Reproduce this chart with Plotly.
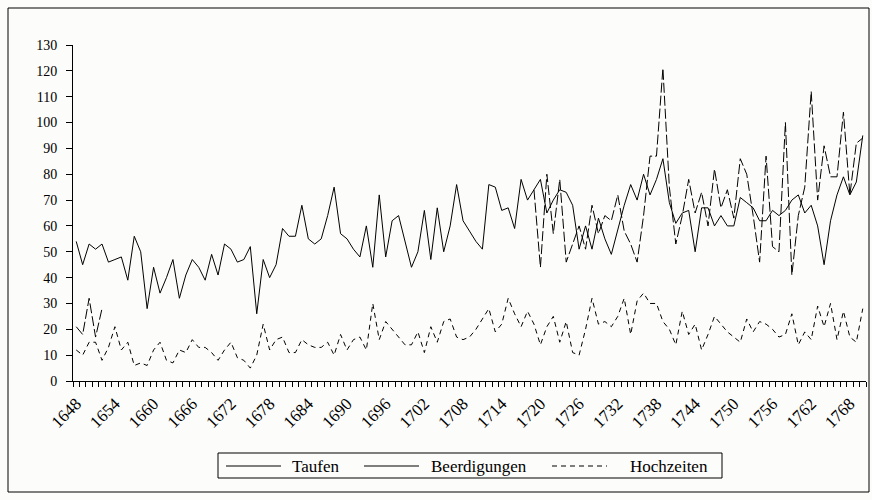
import plotly.graph_objects as go

years = list(range(1648, 1771))

taufen = [54, 45, 53, 51, 53, 46, 47, 48, 39, 56,
          50, 28, 44, 34, 40, 47, 32, 41, 47, 44,
          39, 49, 41, 53, 51, 46, 47, 52, 26, 47,
          40, 45, 59, 56, 56, 68, 55, 53, 55, 64,
          75, 57, 55, 51, 48, 60, 44, 72, 48, 62,
          64, 54, 44, 50, 66, 47, 67, 50, 60, 76,
          62, 58, 54, 51, 76, 75, 66, 67, 59, 78,
          70, 74, 78, 65, 70, 74, 73, 68, 51, 60,
          51, 63, 55, 49, 59, 68, 76, 70, 80, 72,
          78, 86, 69, 61, 65, 66, 50, 67, 67, 60,
          64, 60, 60, 71, 69, 67, 62, 62, 66, 64,
          66, 70, 72, 65, 68, 60, 45, 62, 72, 79,
          72, 77, 95]

beerdigungen = ([21, 18, 32, 17, 28] + [None] * 66 +
                [74, 44, 80, 57, 78, 46, 53, 60, 51,
                 68, 57, 64, 62, 72, 58, 53, 46, 64, 87,
                 87, 121, 75, 53, 64, 78, 65, 73, 60, 82,
                 67, 74, 63, 86, 80, 64, 46, 87, 52, 50,
                 100, 41, 64, 75, 112, 70, 91, 79, 79, 104,
                 72, 92, 94])

hochzeiten = [12, 10, 15, 15, 8, 13, 21, 12, 15, 6,
              7, 6, 12, 15, 8, 7, 12, 11, 16, 13,
              13, 11, 8, 12, 15, 9, 8, 5, 10, 22,
              12, 16, 17, 11, 11, 16, 14, 13, 13, 15,
              10, 18, 12, 16, 17, 12, 30, 16, 23, 20,
              17, 14, 14, 19, 11, 21, 15, 23, 24, 17,
              16, 17, 20, 24, 28, 19, 22, 32, 26, 21,
              27, 22, 14, 21, 25, 15, 23, 11, 10, 20,
              32, 22, 23, 21, 25, 32, 18, 31, 34, 30,
              30, 23, 20, 14, 27, 18, 22, 12, 18, 25,
              22, 19, 17, 15, 24, 19, 23, 22, 20, 17,
              18, 26, 14, 19, 16, 29, 21, 30, 16, 27,
              17, 15, 28]

series_names = ["Taufen", "Beerdigungen", "Hochzeiten"]
tick_years = list(range(1648, 1771, 6))
y_ticks = list(range(0, 131, 10))

FONT = "Liberation Serif, Times New Roman, serif"
BG = "#fcfcfa"
DASHES = ["solid", "10px,3px", "5px,4px"]
LEGEND_DASHES = ["solid", "solid", "5px,4px"]

W, H = 872, 500
L, R, T, B = 73, 6, 45, 119
PW, PH = W - L - R, H - T - B


def px_x(p):
    return (p - L) / PW


def px_y(p):
    return (H - B - p) / PH


fig = go.Figure()
for name, vals, dash in zip(series_names, [taufen, beerdigungen, hochzeiten], DASHES):
    fig.add_trace(go.Scatter(x=years, y=vals, name=name, mode="lines",
                             connectgaps=False, showlegend=False, hoverinfo="skip",
                             line=dict(color="black", width=1, dash=dash)))

fig.update_layout(
    width=W, height=H,
    margin=dict(l=L, r=R, t=T, b=B),
    paper_bgcolor=BG, plot_bgcolor=BG,
    font=dict(family=FONT, size=14, color="black"),
    xaxis=dict(range=[1647.5, 1770.5], tickmode="array", tickvals=tick_years,
               ticktext=[str(v) for v in tick_years], tickangle=-45,
               ticks="", showgrid=False, zeroline=False,
               showline=True, linecolor="black", linewidth=1,
               ticklabelstandoff=5,
               minor=dict(ticks="outside", tick0=1647.5, dtick=1, ticklen=5,
                          tickcolor="black", showgrid=False),
               tickfont=dict(family=FONT, size=17)),
    yaxis=dict(range=[0, 130], tickmode="array", tickvals=y_ticks,
               ticks="outside", ticklen=6, tickcolor="black",
               showgrid=False, zeroline=False, ticklabelstandoff=6,
               showline=True, linecolor="black", linewidth=1,
               tickfont=dict(family=FONT, size=14)),
)

# outer chart frame
fig.add_shape(type="rect", xref="paper", yref="paper",
              x0=px_x(8), x1=px_x(869), y0=px_y(492), y1=px_y(8),
              line=dict(color="black", width=1), fillcolor="rgba(0,0,0,0)", layer="below")

# legend box (drawn manually to match the reference layout)
fig.add_shape(type="rect", xref="paper", yref="paper",
              x0=px_x(218), x1=px_x(722), y0=px_y(478), y1=px_y(453),
              line=dict(color="black", width=1), fillcolor=BG)
leg_y = px_y(466)
sample_x = [226, 364, 552]
text_x = [290, 429, 628]
for name, dash, sx, tx in zip(series_names, LEGEND_DASHES, sample_x, text_x):
    fig.add_shape(type="line", xref="paper", yref="paper",
                  x0=px_x(sx), x1=px_x(sx + 55), y0=leg_y, y1=leg_y,
                  line=dict(color="black", width=1, dash=dash))
    fig.add_annotation(xref="paper", yref="paper", x=px_x(tx), y=leg_y,
                       text=name, showarrow=False, xanchor="left", yanchor="middle",
                       font=dict(family=FONT, size=17, color="black"))

fig.write_html("out.html", config={"displayModeBar": False},
               post_script="document.body.style.margin='0px';")
